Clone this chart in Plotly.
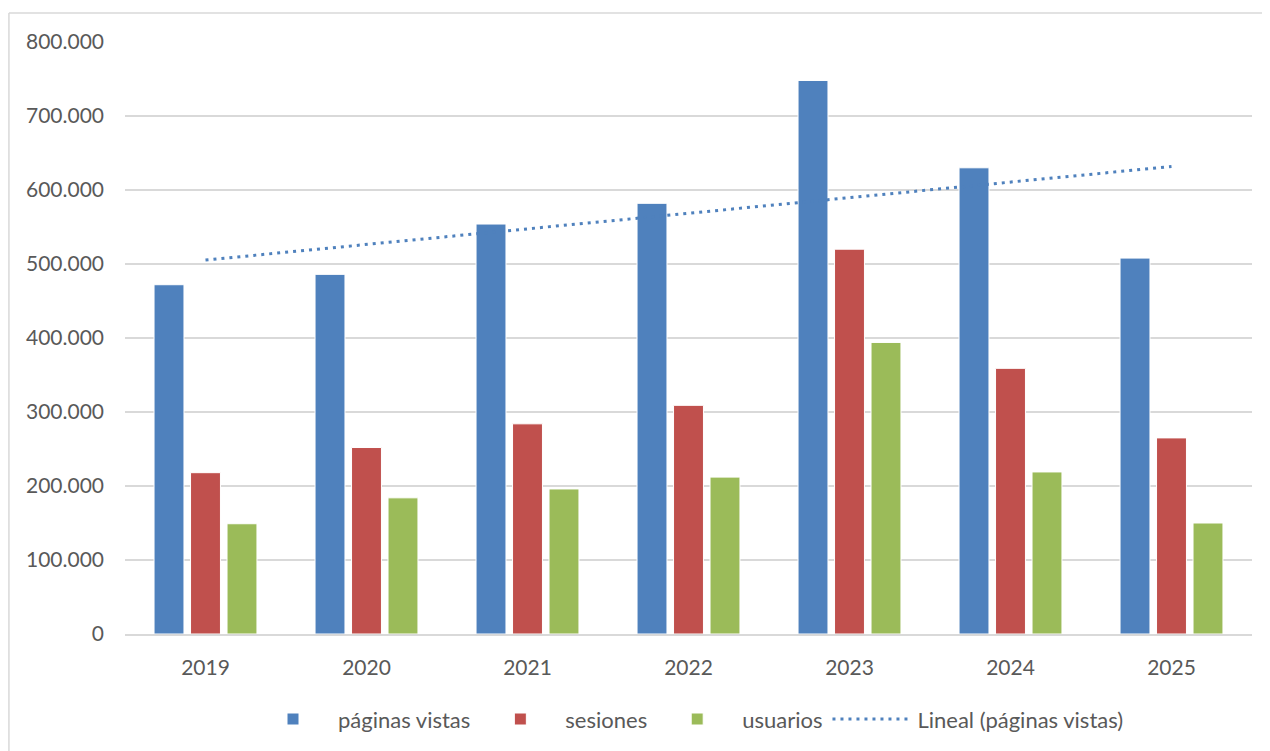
import numpy as np
import plotly.graph_objects as go

years = ["2019", "2020", "2021", "2022", "2023", "2024", "2025"]
paginas_vistas = [472000, 486000, 554000, 582000, 748000, 630000, 508000]
sesiones = [218000, 252000, 284000, 309000, 520000, 359000, 265000]
usuarios = [149000, 184000, 196000, 212000, 394000, 219000, 150000]
y_ticks = [0, 100000, 200000, 300000, 400000, 500000, 600000, 700000, 800000]

# linear trend of páginas vistas, like Excel's "Lineal" trendline
idx = np.arange(1, len(years) + 1)
slope, intercept = np.polyfit(idx, paginas_vistas, 1)
trend = slope * idx + intercept

fig = go.Figure()

fig.add_trace(go.Bar(
    x=years, y=paginas_vistas, name="páginas vistas",
    marker=dict(color="#4F81BD", line=dict(color="#FFFFFF", width=1)),
))
fig.add_trace(go.Bar(
    x=years, y=sesiones, name="sesiones",
    marker=dict(color="#C0504D", line=dict(color="#FFFFFF", width=1)),
))
fig.add_trace(go.Bar(
    x=years, y=usuarios, name="usuarios",
    marker=dict(color="#9BBB59", line=dict(color="#FFFFFF", width=1)),
))
fig.add_trace(go.Scatter(
    x=years, y=trend, name="Lineal (páginas vistas)",
    mode="lines",
    line=dict(color="#4F81BD", width=3, dash="3px,5px"),
))

# outer chart frame (top and left edges visible in the crop)
fig.add_shape(type="line", xref="paper", yref="paper",
              x0=-0.103, x1=1.03, y0=1.049, y1=1.049,
              line=dict(color="#D9D9D9", width=1.5))
fig.add_shape(type="line", xref="paper", yref="paper",
              x0=-0.103, x1=-0.103, y0=1.049, y1=-0.3,
              line=dict(color="#D9D9D9", width=1.5))

# the page body adds an 8px offset, so the figure is 8px smaller
fig.update_layout(
    width=1262,
    height=743,
    plot_bgcolor="white",
    paper_bgcolor="white",
    font=dict(family="Lato, 'Open Sans', sans-serif", size=21, color="#595959"),
    separators=",.",
    barmode="group",
    bargap=0.32,
    bargroupgap=0.18,
    margin=dict(l=117, r=18, t=34, b=116),
    showlegend=True,
    legend=dict(
        orientation="h",
        x=0.5, xanchor="center",
        y=-0.142, yanchor="middle",
        font=dict(size=22, color="#595959"),
        itemwidth=80,
        traceorder="normal",
    ),
    xaxis=dict(
        showgrid=False,
        showline=True,
        linecolor="#D9D9D9",
        linewidth=1.5,
        ticks="",
        tickfont=dict(size=21, color="#595959"),
        ticklabelstandoff=14,
    ),
    yaxis=dict(
        range=[0, 800000],
        tickvals=y_ticks,
        tickformat=",d",
        showgrid=True,
        gridcolor="#D9D9D9",
        gridwidth=1.5,
        zeroline=False,
        showline=False,
        ticks="",
        tickfont=dict(size=21, color="#595959"),
        ticklabelstandoff=20,
    ),
)

fig.write_html("out.html")
